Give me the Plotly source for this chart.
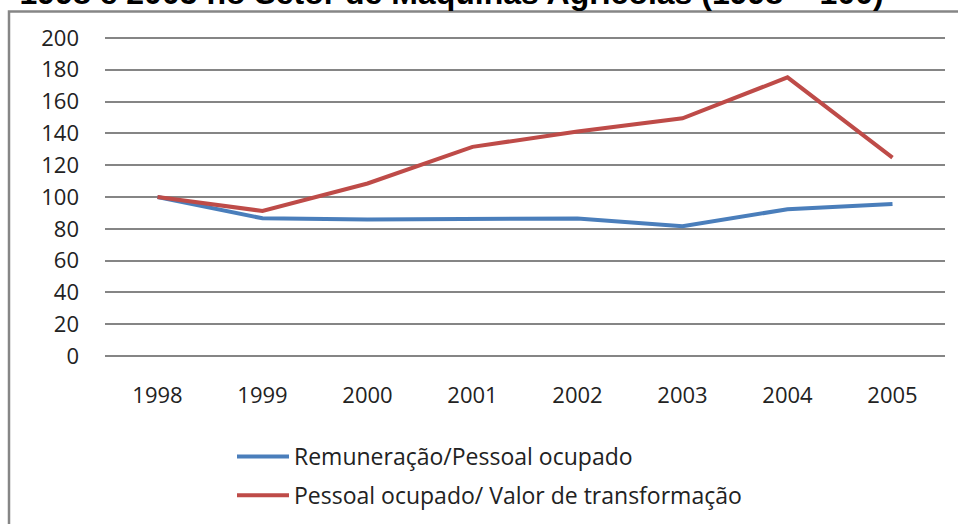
import plotly.graph_objects as go

years = ["1998", "1999", "2000", "2001", "2002", "2003", "2004", "2005"]
remuneracao = [100, 86.6, 85.8, 86.3, 86.5, 81.6, 92.3, 95.6]
pessoal_valor = [100, 91.2, 108.5, 131.5, 141.2, 149.5, 175.2, 124.8]
y_ticks = [0, 20, 40, 60, 80, 100, 120, 140, 160, 180, 200]
series_names = ["Remuneração/Pessoal ocupado", "Pessoal ocupado/ Valor de transformação"]
title_text = "- 1998 e 2005 no Setor de Máquinas Agrícolas (1998 = 100)"

W, H = 958, 524
L, R, T, B = 105, 13, 36.4, 166.1
pw, ph = W - L - R, H - T - B

def px(x):
    return (x - L) / pw

def py(y):
    return (H - B - y) / ph

FONT = "Open Sans"
TICK = dict(family=FONT, size=22, color="#222222")

fig = go.Figure()
fig.add_trace(go.Scatter(x=years, y=remuneracao, mode="lines", name=series_names[0],
                         line=dict(color="#4A7EBB", width=4), legendgroup="a"))
fig.add_trace(go.Scatter(x=years, y=pessoal_valor, mode="lines", name=series_names[1],
                         line=dict(color="#BE4B48", width=4), legendgroup="b"))

frame_path = "M {x0},{yb} L {x0},{yt} L {x1},{yt}".format(
    x0=px(9), yb=py(540), yt=py(12), x1=px(970))

fig.update_layout(
    width=W, height=H, autosize=False,
    margin=dict(l=L, r=R, t=T, b=B, pad=0, autoexpand=False),
    paper_bgcolor="white", plot_bgcolor="white",
    font=dict(family=FONT, size=22, color="#222222"),
    showlegend=True,
    legend=dict(orientation="v", xref="container", yref="container",
                x=232 / W, xanchor="left", y=1 - 435 / H, yanchor="top",
                font=dict(family=FONT, size=23, color="#222222"),
                tracegroupgap=6, itemwidth=52, bgcolor="rgba(0,0,0,0)"),
    xaxis=dict(type="category", range=[-0.5, 7.5], showgrid=False, zeroline=False,
               showline=False, ticks="", ticklabelstandoff=22, automargin=False,
               tickfont=TICK),
    yaxis=dict(range=[-1.2, 201.2], tickvals=y_ticks, showgrid=True, gridcolor="#858585",
               gridwidth=1.6, zeroline=False, showline=False, ticks="", automargin=False,
               ticklabelstandoff=25, tickfont=TICK),
    shapes=[
        dict(type="path", xref="paper", yref="paper", path=frame_path,
             line=dict(color="#868686", width=2.5), layer="above"),
    ],
    annotations=[
        dict(text="<b>" + title_text + "</b>", xref="paper", yref="paper", x=px(-2), xanchor="left",
             y=py(13), yanchor="bottom", showarrow=False,
             font=dict(family="Liberation Sans", size=32, color="black")),
    ],
)

fig.write_html("out.html", config={"displayModeBar": False},
               post_script="document.body.style.margin='0';document.body.style.padding='0';")
